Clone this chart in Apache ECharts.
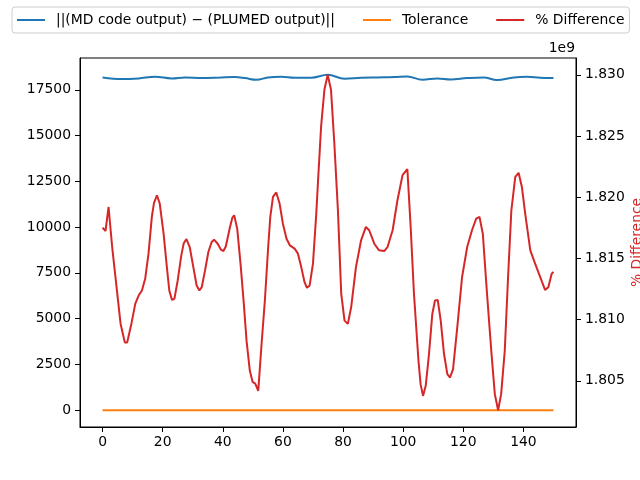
<!DOCTYPE html>
<html>
<head>
<meta charset="utf-8">
<script src="https://cdn.jsdelivr.net/npm/echarts@6/dist/echarts.min.js"></script>
<style>html,body{margin:0;padding:0;background:#fff}#c{width:640px;height:480px}</style>
</head>
<body>
<div id="c"></div>
<script>
// ---- data ----
const seriesNames = ['||(MD code output) \u2212 (PLUMED output)||', 'Tolerance', '% Difference'];
const xTicks = [0, 20, 40, 60, 80, 100, 120, 140];
const leftTicks = [0, 2500, 5000, 7500, 10000, 12500, 15000, 17500];
const rightTicks = [1.805, 1.810, 1.815, 1.820, 1.825, 1.830]; // x 1e9

const diffX = [0,6.5,12,17.5,23,27.5,33,39.6,44,47.4,51.2,55,59.5,63.9,69.4,74.9,80.5,86,91.5,97,101.4,106.4,111.4,115.8,121.3,126.8,131.2,136.8,141.2,145.6,150];
const diffVal = [18172,18081,18118,18209,18118,18172,18136,18172,18190,18136,18045,18172,18209,18154,18154,18318,18100,18154,18172,18190,18227,18045,18118,18063,18136,18172,18027,18172,18209,18154,18136];

const tolX = [0, 150];
const tolVal = [0, 0];

// % difference in units of 1e9
const pctX = [0,1,2,3.2,6,7.4,8.2,9.6,10.9,12,13.1,14.2,15.3,16.4,17.1,18.1,19,20.3,21.4,22.2,23.1,23.9,25,26.2,27,27.9,29,30.2,31.3,32.2,33,34.1,35.2,36.3,37.1,38.3,39.4,40.2,41,42.4,43.2,43.8,44.8,45.9,47,47.9,49,49.9,50.8,51.8,52.9,54,55.1,55.8,56.7,57.8,58.9,60,61.2,62.3,63.9,65,66.1,67.2,68,68.9,70,71.1,71.7,72.7,73.8,74.9,76,77.1,78.3,79.4,80.5,81.6,82.7,84.3,86,87.6,88.7,90.4,92,93.7,94.8,96.5,98.1,99.8,101.4,102.5,103.6,105.1,105.8,106.6,107.5,108.6,109.7,110.6,111.5,112.5,113.6,114.7,115.6,116.6,118,119.6,121.3,122.9,124.3,125.4,126.5,127.9,129.4,130.5,131.6,132.6,133.8,134.9,136,137.3,138.4,139.5,140.6,142.3,143.9,145.6,147.2,148.3,149.4,150];
const pctVal = [1.81752,1.81724,1.81920,1.81593,1.80967,1.80814,1.80814,1.80967,1.81131,1.81197,1.81238,1.81336,1.81541,1.81839,1.81951,1.82016,1.81951,1.81705,1.81429,1.81238,1.81161,1.81170,1.81320,1.81525,1.81623,1.81658,1.81593,1.81429,1.81279,1.81238,1.81265,1.81402,1.81552,1.81634,1.81653,1.81620,1.81571,1.81560,1.81598,1.81757,1.81834,1.81852,1.81743,1.81457,1.81129,1.80828,1.80582,1.80492,1.80478,1.80418,1.80801,1.81156,1.81593,1.81839,1.82002,1.82039,1.81948,1.81784,1.81661,1.81607,1.81580,1.81539,1.81429,1.81306,1.81260,1.81279,1.81457,1.81866,1.82139,1.82576,1.82877,1.83000,1.82877,1.82443,1.81893,1.81213,1.80992,1.80965,1.81101,1.81429,1.81648,1.81757,1.81730,1.81620,1.81566,1.81560,1.81593,1.81730,1.81975,1.82180,1.82230,1.81757,1.81211,1.80664,1.80473,1.80377,1.80459,1.80719,1.81047,1.81156,1.81161,1.80992,1.80719,1.80555,1.80527,1.80596,1.80937,1.81347,1.81593,1.81730,1.81825,1.81839,1.81702,1.81211,1.80719,1.80391,1.80260,1.80391,1.80746,1.81347,1.81893,1.82166,1.82199,1.82084,1.81866,1.81566,1.81457,1.81347,1.81243,1.81265,1.81375,1.81390];

const zip = (xs, ys) => xs.map((x, i) => [x, ys[i]]);
const FONT = 'DejaVu Sans';
const FS = 13.9;
const axisCommon = {
  axisLine: { show: true, onZero: false, lineStyle: { color: '#000', width: 1 } },
  axisTick: { show: true, length: 5, lineStyle: { color: '#000', width: 1 } },
  axisLabel: { color: '#000', fontFamily: FONT, fontSize: FS, margin: 9 },
  splitLine: { show: false }
};

const chart = echarts.init(document.getElementById('c'), null, { renderer: 'canvas' });
chart.setOption({
  animation: false,
  backgroundColor: '#fff',
  textStyle: { fontFamily: FONT },
  grid: { left: 80, right: 64, top: 58, bottom: 53, containLabel: false, outerBoundsMode: 'none',
          show: true, borderColor: '#000', borderWidth: 1, backgroundColor: 'transparent' },
  legend: {
    left: 12, top: 7,
    padding: [6, 5, 6, 5],
    itemWidth: 28, itemHeight: 2, itemGap: 28,
    borderColor: '#cccccc', borderWidth: 1, borderRadius: 3,
    textStyle: { fontFamily: FONT, fontSize: FS, color: '#000', padding: [0, 0, 0, 6] },
    data: seriesNames.map(n => ({ name: n, icon: 'rect' }))
  },
  xAxis: Object.assign({}, axisCommon, {
    type: 'value', min: -7.5, max: 157.5,
    axisTick: Object.assign({}, axisCommon.axisTick, { customValues: xTicks }),
    axisLabel: Object.assign({}, axisCommon.axisLabel, { customValues: xTicks, margin: 8, formatter: v => String(v) })
  }),
  yAxis: [
    Object.assign({}, axisCommon, {
      type: 'value', position: 'left', min: -916, max: 19234,
      axisTick: Object.assign({}, axisCommon.axisTick, { customValues: leftTicks }),
      axisLabel: Object.assign({}, axisCommon.axisLabel, { customValues: leftTicks, formatter: v => String(v) })
    }),
    Object.assign({}, axisCommon, {
      type: 'value', position: 'right', min: 1.80123, max: 1.83137,
      name: '% Difference', nameLocation: 'middle', nameRotate: 90, nameGap: 54, nameMoveOverlap: false,
      nameTextStyle: { color: '#d62728', fontFamily: FONT, fontSize: FS },
      axisTick: Object.assign({}, axisCommon.axisTick, { customValues: rightTicks }),
      axisLabel: Object.assign({}, axisCommon.axisLabel, { customValues: rightTicks, formatter: v => v.toFixed(3) })
    })
  ],
  graphic: [{
    type: 'text', right: 65, top: 41,
    style: { text: '1e9', font: FS + 'px "' + FONT + '"', fill: '#000' }
  }],
  series: [
    { name: seriesNames[0], type: 'line', yAxisIndex: 0, data: zip(diffX, diffVal), showSymbol: false, smooth: 0.4,
      lineStyle: { color: '#1f77b4', width: 2 }, itemStyle: { color: '#1f77b4' } },
    { name: seriesNames[1], type: 'line', yAxisIndex: 0, data: zip(tolX, tolVal), showSymbol: false,
      lineStyle: { color: '#ff7f0e', width: 2 }, itemStyle: { color: '#ff7f0e' } },
    { name: seriesNames[2], type: 'line', yAxisIndex: 1, data: zip(pctX, pctVal), showSymbol: false,
      lineStyle: { color: '#d62728', width: 2 }, itemStyle: { color: '#d62728' } }
  ]
});
</script>
</body>
</html>
